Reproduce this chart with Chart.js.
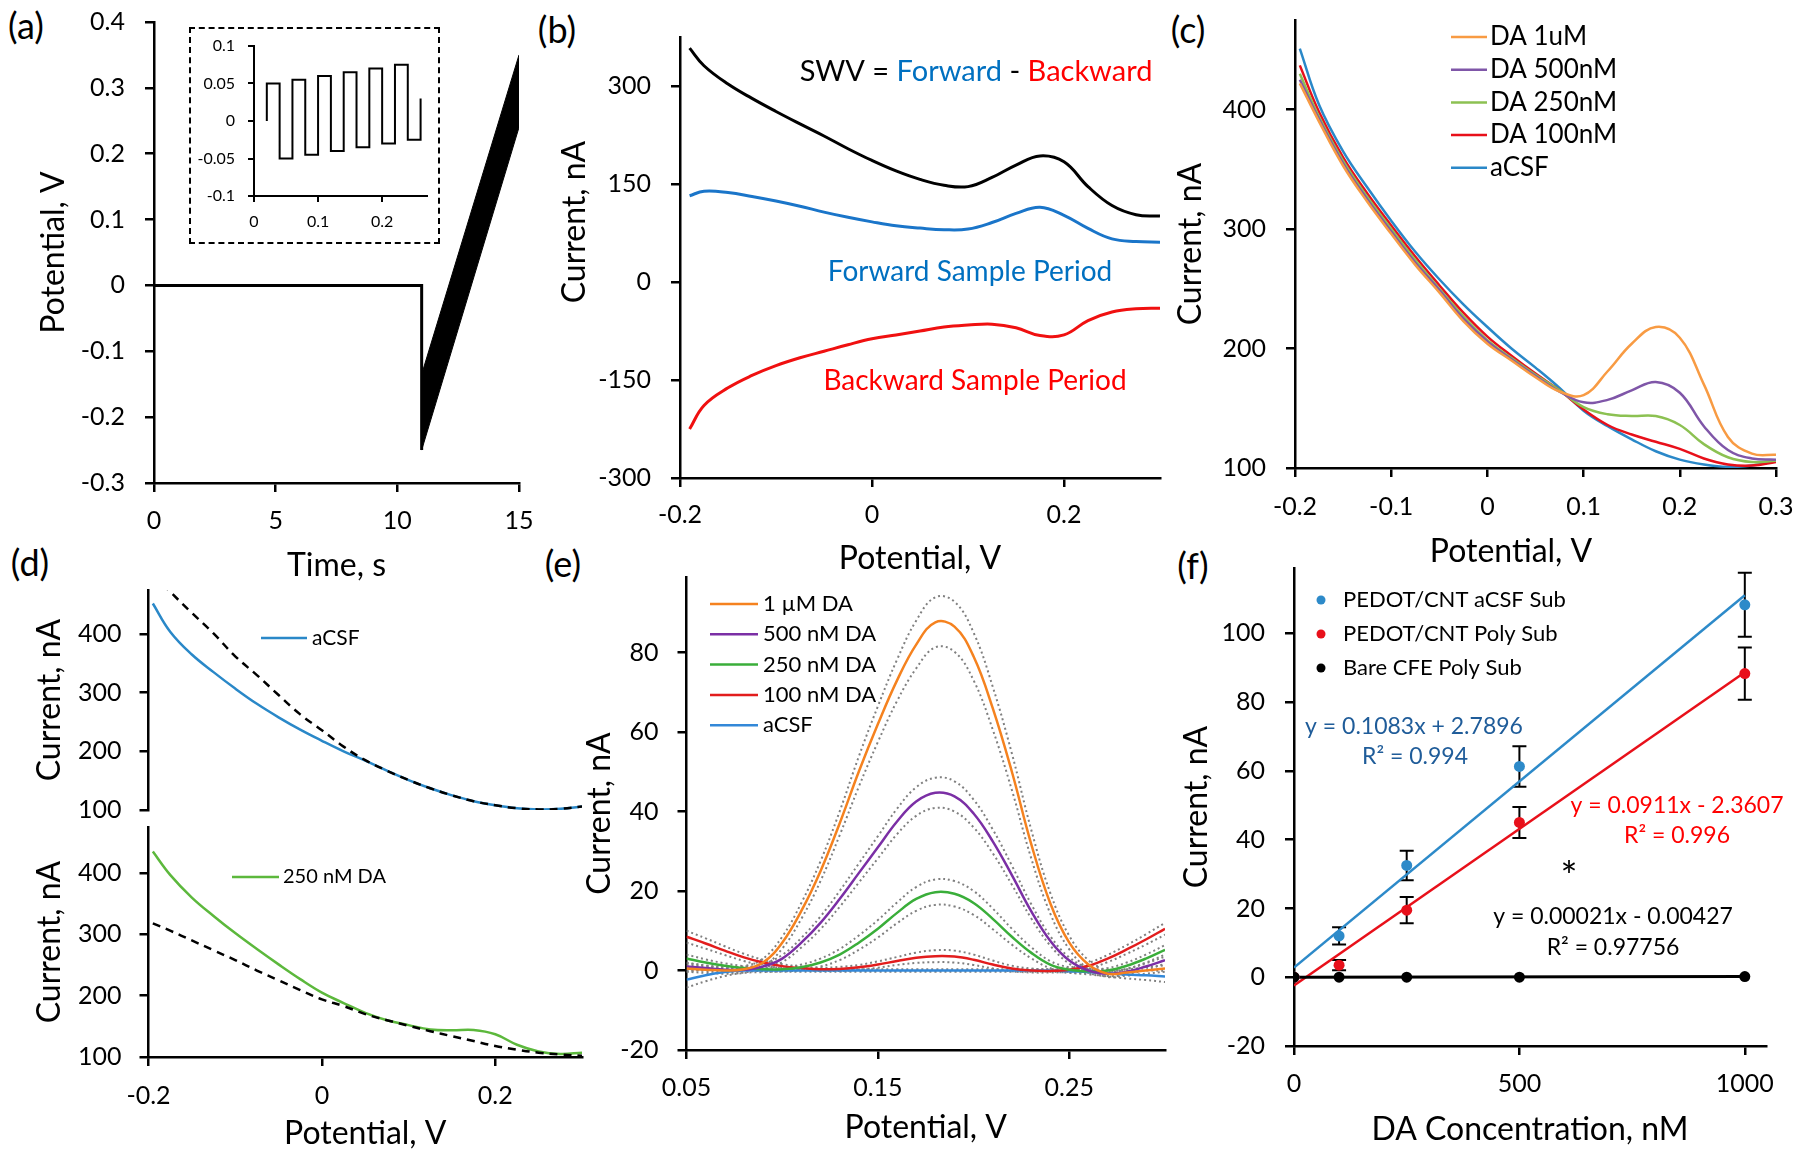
<!DOCTYPE html>
<html>
<head>
<meta charset="utf-8">
<title>SWV dopamine figure</title>
<script src="https://cdn.jsdelivr.net/npm/chart.js@4.4.1/dist/chart.umd.min.js"></script>
<style>
  html, body { margin: 0; padding: 0; background: #fff; }
  body { position: relative; width: 1800px; height: 1156px; overflow: hidden; font-family: Lato, sans-serif; }
  canvas { position: absolute; }
  .tag { position: absolute; font-size: 36px; line-height: 1; transform: translate(-50%, -50%); color: #000; white-space: nowrap; }
  #insetBox { position: absolute; left: 189px; top: 27px; width: 251px; height: 217px; box-sizing: border-box; border: 2.5px dashed #000; }
</style>
</head>
<body>
<div id="insetBox"></div>
<div class="tag" style="left:26px;top:25px">(a)</div>
<div class="tag" style="left:557px;top:29px">(b)</div>
<div class="tag" style="left:1188px;top:29px">(c)</div>
<div class="tag" style="left:30px;top:562px">(d)</div>
<div class="tag" style="left:563px;top:563px">(e)</div>
<div class="tag" style="left:1193px;top:565px">(f)</div>
<script>
// (a) waveform
const aTime = [0, 11, 11];
const aPotential = [0, 0, -0.25];
const aRampTime = [11, 15];
const aRampHigh = [-0.135, 0.35];
const aRampLow = [-0.25, 0.24];
const aXTicks = [0, 5, 10, 15];
const aYTicks = [-0.3, -0.2, -0.1, 0, 0.1, 0.2, 0.3, 0.4];
const insetTime = [0.02, 0.02, 0.04, 0.06, 0.08, 0.10, 0.12, 0.14, 0.16, 0.18, 0.20, 0.22, 0.24, 0.26];
const insetPotential = [0, 0.05, -0.05, 0.055, -0.045, 0.06, -0.04, 0.065, -0.035, 0.07, -0.03, 0.075, -0.025, 0.03];
const insetXTicks = [0, 0.1, 0.2];
const insetYTicks = [-0.1, -0.05, 0, 0.05, 0.1];

// (b) forward / backward / difference
const bPotential = [-0.19, -0.175, -0.15, -0.125, -0.1, -0.075, -0.05, -0.025, 0, 0.025, 0.05, 0.075, 0.1, 0.125, 0.15, 0.175, 0.2, 0.225, 0.25, 0.275, 0.3];
const bSwv = [358, 331, 303, 281, 261, 242, 223.5, 204, 186, 170, 157, 148, 146, 160, 179, 193, 184, 146, 117, 103, 101];
const bForward = [132, 139, 137, 131, 124, 116, 107, 99, 92, 86, 82.5, 80, 81, 91, 105, 114.5, 102, 82, 66, 62, 61];
const bBackward = [-225, -189, -162, -143, -128, -116, -106, -96, -87, -81, -75, -69, -66, -64.5, -70, -82, -81, -59, -46, -41, -40];
const bXTicks = [-0.2, 0, 0.2];
const bYTicks = [-300, -150, 0, 150, 300];

// (c) raw SWV per concentration
const cPotential = [-0.195, -0.175, -0.15, -0.125, -0.1, -0.075, -0.05, -0.025, 0, 0.025, 0.05, 0.075, 0.1, 0.125, 0.15, 0.175, 0.2, 0.225, 0.25, 0.275, 0.3];
const c1uM = [422, 390, 353, 323, 296, 270, 247, 223, 204, 190, 176, 164, 161, 181, 204, 218, 209, 170, 126, 112, 111];
const c500nM = [425, 392, 355, 325, 298, 272, 249, 225, 206, 191, 177, 164, 155, 157, 165, 172, 163, 135, 115, 108, 107];
const c250nM = [430, 394, 357, 327, 300, 274, 250, 227, 207, 192, 178, 165, 151, 145, 143.5, 143.5, 136, 120, 109, 105, 106];
const c100nM = [437, 398, 360, 330, 303, 277, 253, 230, 210, 194, 179, 165, 149, 136, 128, 122, 116, 108, 103, 102, 105];
const cAcsf = [451, 404, 365, 335, 307, 281, 258, 237, 218, 200, 184, 167, 148, 135, 124, 114, 107, 103, 101, 102, 106];
const cXTicks = [-0.2, -0.1, 0, 0.1, 0.2, 0.3];
const cYTicks = [100, 200, 300, 400];

// (d) baseline fits
const dPotential = [-0.195, -0.175, -0.15, -0.125, -0.1, -0.075, -0.05, -0.025, 0, 0.025, 0.05, 0.075, 0.1, 0.125, 0.15, 0.175, 0.2, 0.225, 0.25, 0.275, 0.3];
const dAcsf = [452, 404, 365, 335, 307, 281, 258, 237, 218, 200, 184, 167, 151, 137, 125, 115, 108, 103, 101, 102, 106];
const dAcsfBase = [502, 472, 436, 401, 362, 330, 296, 263, 236, 208, 185, 167, 151, 137, 125, 115, 108, 103, 101, 102, 106];
const d250nM = [435, 397, 360, 330, 302, 276, 251, 227, 205, 188, 172, 160, 152, 145, 143.5, 144, 137, 120, 109, 105, 107];
const d250nMBase = [318, 306, 290, 274, 258, 241, 225, 209, 194, 183, 170, 160, 151, 142, 134, 126, 118, 112, 107, 104, 102];
const dXTicks = [-0.2, 0, 0.2];
const dYTicks = [100, 200, 300, 400];

// (e) baseline-subtracted peaks (mean and spread)
const ePotential = [0.05, 0.06, 0.07, 0.08, 0.09, 0.10, 0.11, 0.12, 0.13, 0.14, 0.15, 0.16, 0.17, 0.18, 0.19, 0.20, 0.21, 0.22, 0.23, 0.24, 0.25, 0.26, 0.27, 0.28, 0.29, 0.30];
const e1uM = [0.5, 0.2, 0, 0.3, 2, 7, 15, 25, 37, 50, 62, 73, 82, 87.6, 86.5, 79, 66, 50, 32, 17, 7, 1.5, -0.8, -0.5, 0, 0.5];
const e1uMErr = [0.8, 0.8, 0.8, 0.8, 1, 1.5, 2, 2.5, 3, 3.8, 4.5, 5.2, 6, 6.3, 6.3, 6, 5.4, 4.6, 3.6, 2.6, 1.7, 1.1, 0.8, 0.8, 0.8, 0.8];
const e500nM = [1, 0.6, 0.2, 0.2, 1, 3, 7, 12, 18, 24.5, 31, 37.5, 42.5, 44.7, 43.8, 39.5, 32.5, 24, 15, 7.5, 2.5, 0, -0.8, -0.3, 1, 2.6];
const e500nMErr = [0.8, 0.7, 0.6, 0.6, 0.7, 0.9, 1.2, 1.6, 2, 2.4, 2.8, 3.2, 3.6, 3.8, 3.8, 3.5, 3, 2.4, 1.8, 1.2, 0.8, 0.6, 0.6, 0.7, 0.8, 0.9];
const e250nM = [3, 2, 1.2, 0.6, 0.3, 0.3, 0.8, 2, 4, 7, 10.5, 14.5, 18, 19.7, 19.3, 17, 13, 8.5, 4.5, 1.5, 0.2, -0.2, 0, 1.2, 3, 5.2];
const e250nMErr = [1, 0.8, 0.6, 0.5, 0.5, 0.5, 0.7, 1, 1.4, 1.8, 2.2, 2.6, 3, 3.2, 3.2, 3, 2.6, 2, 1.4, 0.9, 0.6, 0.5, 0.6, 0.8, 1, 1.2];
const e100nM = [8.5, 6.8, 5, 3.3, 2, 1.1, 0.6, 0.3, 0.4, 0.8, 1.5, 2.4, 3.2, 3.6, 3.5, 2.7, 1.5, 0.5, 0, -0.1, 0.2, 1.2, 3, 5.3, 7.8, 10.5];
const e100nMErr = [1.5, 1.3, 1.1, 0.9, 0.7, 0.5, 0.4, 0.4, 0.5, 0.6, 0.8, 1, 1.3, 1.5, 1.5, 1.3, 1, 0.7, 0.5, 0.4, 0.5, 0.7, 0.9, 1.1, 1.3, 1.5];
const eAcsf = [-2.3, -1.2, -0.4, 0, 0, 0, 0, 0, 0, 0, 0, 0, 0, 0, 0, 0, 0, 0, 0, 0, -0.2, -0.4, -0.7, -1, -1.2, -1.5];
const eAcsfErr = [2, 1.5, 1, 0.6, 0.4, 0.3, 0.3, 0.3, 0.3, 0.3, 0.3, 0.3, 0.3, 0.3, 0.3, 0.3, 0.3, 0.3, 0.3, 0.3, 0.4, 0.6, 0.8, 1, 1.2, 1.4];
const eXTicks = [0.05, 0.15, 0.25];
const eYTicks = [-20, 0, 20, 40, 60, 80];

// (f) calibration
const fConc = [0, 100, 250, 500, 1000];
const fAcsfSub = [0, 12, 32.5, 61.3, 108.3];
const fAcsfErr = [0, 2.5, 4.3, 5.9, 9.3];
const fPolySub = [0, 3.5, 19.5, 45, 88.3];
const fPolyErr = [0, 1.5, 3.8, 4.5, 7.6];
const fBareSub = [0, 0, 0, 0, 0.2];
const fFitConc = [0, 1000];
const fAcsfFit = [2.8, 111.1];
const fPolyFit = [-2.4, 88.7];
const fBareFit = [0, 0.2];
const fXTicks = [0, 500, 1000];
const fYTicks = [-20, 0, 20, 40, 60, 80, 100];

const FONT = 'Lato';
const BLUE = '#2a88c8', ORANGE = '#f89b43', PURPLE = '#7f56a8', GREEN = '#8cc152', RED = '#e8101a';

const pts = (xs, ys) => xs.map((v, i) => ({ x: v, y: ys[i] }));

function line(xs, ys, color, o = {}) {
    return Object.assign({
        data: pts(xs, ys), borderColor: color, backgroundColor: color,
        borderWidth: 2.5, pointRadius: 0, fill: false, tension: 0.4
    }, o);
}

function axis(min, max, ticks, o = {}) {
    return {
        type: 'linear', min, max,
        display: o.display !== false,
        afterBuildTicks: s => { s.ticks = ticks.map(v => ({ value: v })); },
        border: { display: true, color: '#000', width: o.lw || 2.5 },
        grid: { drawOnChartArea: false, drawTicks: true, tickLength: o.tl || 9, color: '#000', lineWidth: o.lw || 2.5 },
        ticks: { color: '#000', font: { family: FONT, size: o.fs || 25 }, padding: o.pad || 14, maxRotation: 0, autoSkip: false, callback: v => String(v) },
        title: o.title ? { display: true, text: o.title, color: '#000', font: { family: FONT, size: 32 } } : { display: false }
    };
}

// free text in page coordinates
function notesPlugin(items) {
    return {
        id: 'notes',
        afterDraw(chart) {
            const ctx = chart.ctx, ox = chart.canvas.offsetLeft, oy = chart.canvas.offsetTop;
            items.forEach(n => {
                ctx.save();
                ctx.font = `${n.size || 23}px ${FONT}`;
                ctx.textBaseline = 'middle';
                ctx.textAlign = 'left';
                ctx.translate(n.x - ox, n.y - oy);
                if (n.rot) ctx.rotate(n.rot);
                const parts = n.parts || [[n.text, n.color || '#000']];
                const total = parts.reduce((s, p) => s + ctx.measureText(p[0]).width, 0);
                let cx = -total / 2;
                parts.forEach(([t, c]) => {
                    ctx.fillStyle = c;
                    ctx.fillText(t, cx, 0);
                    cx += ctx.measureText(t).width;
                });
                ctx.restore();
            });
        }
    };
}

// legend drawn where the original has it
function keysPlugin(k) {
    return {
        id: 'keys',
        afterDraw(chart) {
            if (!k) return;
            const ctx = chart.ctx, ox = chart.canvas.offsetLeft, oy = chart.canvas.offsetTop;
            const items = chart.data.datasets.filter(d => d.key).sort((a, b) => a.key - b.key);
            items.forEach((d, i) => {
                const y = k.y + i * (k.dy || 0) - oy;
                ctx.save();
                if (k.dot) {
                    ctx.fillStyle = d.backgroundColor;
                    ctx.beginPath();
                    ctx.arc(k.x - ox, y, k.dot, 0, Math.PI * 2);
                    ctx.fill();
                } else {
                    ctx.strokeStyle = d.borderColor;
                    ctx.lineWidth = d.borderWidth;
                    ctx.beginPath();
                    ctx.moveTo(k.x - ox, y);
                    ctx.lineTo(k.x + k.len - ox, y);
                    ctx.stroke();
                }
                ctx.fillStyle = '#000';
                ctx.font = `${k.size}px ${FONT}`;
                ctx.textBaseline = 'middle';
                ctx.fillText(d.label, k.tx - ox, y);
                ctx.restore();
            });
        }
    };
}

const errorPlugin = {
    id: 'errorBars',
    beforeDatasetsDraw(chart) {
        const { ctx, scales: { x, y } } = chart;
        chart.data.datasets.forEach(ds => {
            if (!ds.errors) return;
            ds.data.forEach((p, i) => {
                const e = ds.errors[i];
                if (!e) return;
                const px = x.getPixelForValue(p.x);
                const top = y.getPixelForValue(p.y + e), bot = y.getPixelForValue(p.y - e);
                ctx.save();
                ctx.strokeStyle = '#000';
                ctx.lineWidth = 2;
                ctx.beginPath();
                ctx.moveTo(px, top); ctx.lineTo(px, bot);
                ctx.moveTo(px - 7, top); ctx.lineTo(px + 7, top);
                ctx.moveTo(px - 7, bot); ctx.lineTo(px + 7, bot);
                ctx.stroke();
                ctx.restore();
            });
        });
    }
};

// box = canvas [x0, y0, x1, y1] on the page, plot = wanted plot area on the page
function panel(box, plot, cfg) {
    const c = document.createElement('canvas');
    c.width = box[2] - box[0];
    c.height = box[3] - box[1];
    c.style.left = box[0] + 'px';
    c.style.top = box[1] + 'px';
    document.body.appendChild(c);

    const x = cfg.x, y = cfg.y;
    const xShown = x.display !== false;
    y.afterFit = s => { s.width = plot.l - box[0]; s.paddingTop = 0; s.paddingBottom = 0; };
    x.afterFit = s => { s.height = xShown ? box[3] - plot.b : 0; s.paddingLeft = 0; s.paddingRight = 0; };
    if (y.title.display) y.title.padding = { top: cfg.yTitle - box[0] - 19.2, bottom: 0 };
    if (x.title.display) x.title.padding = { top: 0, bottom: box[3] - cfg.xTitle - 19.2 };

    return new Chart(c, {
        type: 'line',
        data: { datasets: cfg.datasets },
        options: {
            responsive: false,
            animation: false,
            events: [],
            layout: { padding: { left: 0, top: plot.t - box[1], right: box[2] - plot.r, bottom: xShown ? 0 : box[3] - plot.b } },
            scales: { x, y },
            plugins: { legend: { display: false }, tooltip: { enabled: false } }
        },
        plugins: [errorPlugin, notesPlugin(cfg.notes || []), keysPlugin(cfg.keys)]
    });
}

function build() {
    const straight = { tension: 0 };

    // (a)
    panel([10, 0, 560, 600], { l: 154, t: 22, r: 519, b: 483 }, {
        x: axis(0, 15, aXTicks, { title: 'Time, s', pad: 14 }),
        y: axis(-0.3, 0.4, aYTicks, { title: 'Potential, V', pad: 20 }),
        xTitle: 566, yTitle: 54,
        datasets: [
            line(aTime, aPotential, '#000', { borderWidth: 3, tension: 0 }),
            line(aRampTime, aRampHigh, '#000', { borderWidth: 1, tension: 0, fill: '+1' }),
            line(aRampTime, aRampLow, '#000', { borderWidth: 1, tension: 0 })
        ]
    });
    panel([192, 30, 437, 241], { l: 254, t: 46, r: 427, b: 196 }, {
        x: axis(0, 0.27, insetXTicks, { fs: 16, pad: 10, tl: 6, lw: 2 }),
        y: axis(-0.1, 0.1, insetYTicks, { fs: 16, pad: 13, tl: 6, lw: 2 }),
        datasets: [line(insetTime, insetPotential, '#000', { borderWidth: 2, stepped: true, tension: 0 })]
    });

    // (b)
    panel([540, 10, 1190, 590], { l: 680, t: 37, r: 1160, b: 478 }, {
        x: axis(-0.2, 0.3, bXTicks, { title: 'Potential, V', pad: 13 }),
        y: axis(-300, 375, bYTicks, { pad: 20 }),
        xTitle: 559,
        datasets: [
            line(bPotential, bSwv, '#000', { borderWidth: 3 }),
            line(bPotential, bForward, '#1a75c9', { borderWidth: 3 }),
            line(bPotential, bBackward, '#f01010', { borderWidth: 3 })
        ],
        notes: [
            { x: 575, y: 222, size: 32, text: 'Current, nA', rot: -Math.PI / 2 },
            { x: 976, y: 72, size: 29, parts: [['SWV = ', '#000'], ['Forward', '#0070c0'], [' - ', '#000'], ['Backward', '#ff0000']] },
            { x: 970, y: 272, size: 28, text: 'Forward Sample Period', color: '#0070c0' },
            { x: 975, y: 381, size: 28, text: 'Backward Sample Period', color: '#ff0000' }
        ]
    });

    // (c)
    panel([1165, 0, 1800, 590], { l: 1295, t: 20, r: 1776, b: 468 }, {
        x: axis(-0.2, 0.3, cXTicks, { pad: 15 }),
        y: axis(100, 475, cYTicks, { title: 'Current, nA', pad: 20 }),
        yTitle: 1191,
        datasets: [
            line(cPotential, c1uM, ORANGE, { label: 'DA 1uM', key: 1 }),
            line(cPotential, c500nM, PURPLE, { label: 'DA 500nM', key: 2 }),
            line(cPotential, c250nM, GREEN, { label: 'DA 250nM', key: 3 }),
            line(cPotential, c100nM, RED, { label: 'DA 100nM', key: 4 }),
            line(cPotential, cAcsf, BLUE, { label: 'aCSF', key: 5 })
        ],
        keys: { x: 1451, len: 36, tx: 1490, y: 37, dy: 32.7, size: 26 },
        notes: [{ x: 1511, y: 552, size: 32, text: 'Potential, V' }]
    });

    // (d) top and bottom
    panel([15, 570, 610, 825], { l: 148.5, t: 590, r: 582, b: 810 }, {
        x: axis(-0.2, 0.3, dXTicks, { display: false }),
        y: axis(100, 475, dYTicks, { title: 'Current, nA', pad: 18 }),
        yTitle: 50,
        datasets: [
            line(dPotential, dAcsfBase, '#000', { borderWidth: 2.5, borderDash: [8, 6] }),
            line(dPotential, dAcsf, BLUE, { label: 'aCSF', key: 1 })
        ],
        keys: { x: 261, len: 46, tx: 312, y: 638, size: 21 }
    });
    panel([15, 812, 610, 1156], { l: 148.5, t: 827, r: 582, b: 1057 }, {
        x: axis(-0.2, 0.3, dXTicks, { title: 'Potential, V', pad: 15 }),
        y: axis(100, 475, dYTicks, { title: 'Current, nA', pad: 18 }),
        xTitle: 1134, yTitle: 50,
        datasets: [
            line(dPotential, d250nMBase, '#000', { borderWidth: 2.5, borderDash: [8, 6] }),
            line(dPotential, d250nM, '#5cb83c', { label: '250 nM DA', key: 1 })
        ],
        keys: { x: 232, len: 47, tx: 283, y: 877, size: 20 }
    });

    // (e)
    const eSeries = [
        ['1 µM DA', e1uM, e1uMErr, '#f5821f'],
        ['500 nM DA', e500nM, e500nMErr, '#7b2fa5'],
        ['250 nM DA', e250nM, e250nMErr, '#3aae3a'],
        ['100 nM DA', e100nM, e100nMErr, '#e21d1d'],
        ['aCSF', eAcsf, eAcsfErr, '#3388d8']
    ];
    const eSets = eSeries.map(([label, vals, , color], i) => line(ePotential, vals, color, { label, key: i + 1 }));
    eSeries.forEach(([, vals, err]) => {
        const dotted = { borderWidth: 2, borderDash: [2, 3] };
        eSets.push(line(ePotential, vals.map((v, i) => v + err[i]), '#808080', dotted));
        eSets.push(line(ePotential, vals.map((v, i) => v - err[i]), '#808080', dotted));
    });
    panel([575, 565, 1190, 1156], { l: 686.5, t: 577, r: 1165, b: 1050 }, {
        x: axis(0.05, 0.3, eXTicks, { title: 'Potential, V', pad: 14 }),
        y: axis(-20, 99, eYTicks, { title: 'Current, nA', pad: 19 }),
        xTitle: 1128, yTitle: 599.5,
        datasets: eSets,
        keys: { x: 710, len: 48, tx: 763, y: 604, dy: 30.3, size: 22 }
    });

    // (f)
    const dots = { showLine: false, pointRadius: 5.5, borderWidth: 0 };
    panel([1175, 555, 1800, 1156], { l: 1294, t: 568, r: 1766, b: 1046 }, {
        x: axis(0, 1047, fXTicks, { title: 'DA Concentration, nM', pad: 14 }),
        y: axis(-20, 119, fYTicks, { title: 'Current, nA', pad: 20 }),
        xTitle: 1130, yTitle: 1197,
        datasets: [
            line(fConc, fBareSub, '#000', Object.assign({ label: 'Bare CFE Poly Sub', key: 3 }, dots)),
            line(fConc, fPolySub, RED, Object.assign({ label: 'PEDOT/CNT Poly Sub', key: 2, errors: fPolyErr }, dots)),
            line(fConc, fAcsfSub, '#2d8ac9', Object.assign({ label: 'PEDOT/CNT aCSF Sub', key: 1, errors: fAcsfErr }, dots)),
            line(fFitConc, fBareFit, '#000', Object.assign({ borderWidth: 3 }, straight)),
            line(fFitConc, fPolyFit, RED, straight),
            line(fFitConc, fAcsfFit, '#2d8ac9', straight)
        ],
        keys: { x: 1321, dot: 4.5, tx: 1343, y: 600, dy: 34, size: 22 },
        notes: [
            { x: 1414, y: 727, text: 'y = 0.1083x + 2.7896', color: '#1f5c99' },
            { x: 1415, y: 757, text: 'R² = 0.994', color: '#1f5c99' },
            { x: 1677, y: 806, text: 'y = 0.0911x - 2.3607', color: '#ff0000' },
            { x: 1677, y: 836, text: 'R² = 0.996', color: '#ff0000' },
            { x: 1569, y: 878, text: '*', size: 40 },
            { x: 1613, y: 917, text: 'y = 0.00021x - 0.00427' },
            { x: 1613, y: 948, text: 'R² = 0.97756' }
        ]
    });
}

Promise.all([document.fonts.load('25px Lato')])
    .catch(() => null)
    .then(build);
</script>
</body>
</html>
